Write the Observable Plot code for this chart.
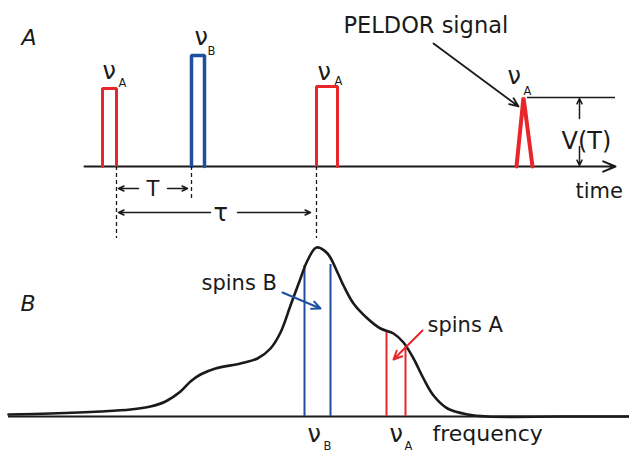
<!DOCTYPE html>
<html><head><meta charset="utf-8">
<script src="https://cdn.jsdelivr.net/npm/d3@7"></script>
<script src="https://cdn.jsdelivr.net/npm/@observablehq/plot@0.6"></script>
<style>body{margin:0;background:#fff}svg{display:block}</style>
</head><body><div id="chart"></div>
<script>
// ---------- Panel A: PELDOR pulse sequence (time axis) ----------
const pulseSpins = ["A", "B", "A"];        // spins excited by each pulse
const pulseStart = [102, 191, 316];        // leading edge time
const pulseEnd   = [116, 204, 337];        // trailing edge time
const pulseTop   = [88, 55, 86];           // pulse amplitude level
const timeBaseline = 166;
const echoTime  = [516, 523, 532];         // PELDOR echo signal
const echoLevel = [166, 97, 166];
const timeAxisStart = 84, timeAxisEnd = 615;

// ---------- Panel B: EPR spectrum (frequency axis) ----------
const freq = [8, 50, 100, 130, 150, 165, 180, 190, 200, 215, 240, 257, 270, 280, 290, 300, 307, 316, 327, 337, 343, 353, 367, 380, 393, 403, 413, 423, 433, 447, 467, 487, 560, 629];
const intensity = [414, 413, 411, 409, 406, 401, 391, 381, 374, 368, 363, 358, 348, 332, 305, 278, 260, 247, 253, 272, 285, 303, 318, 328, 333, 342, 358, 378, 395, 408, 414, 416, 416, 416];
const freqBaseline = 416;
const bandB = [304, 330], bandBTop = [265, 264];   // pumping pulse νB
const bandA = [386, 405], bandATop = [331, 346];   // observer pulse νA

const RED = "#e8262b", BLUE = "#1f4f9f", INK = "#1a1a1a";
const FONT = "'DejaVu Sans', sans-serif";

// pulse outlines
const pulseRows = pulseStart.flatMap((s, i) => [
  {id: i, spins: pulseSpins[i], t: s, v: timeBaseline},
  {id: i, spins: pulseSpins[i], t: s, v: pulseTop[i]},
  {id: i, spins: pulseSpins[i], t: pulseEnd[i], v: pulseTop[i]},
  {id: i, spins: pulseSpins[i], t: pulseEnd[i], v: timeBaseline}
]);
const echoRows = echoTime.map((t, i) => ({t, v: echoLevel[i]}));
const spectrum = freq.map((f, i) => ({f, v: intensity[i]}));

function txt(items, opts) {
  return Plot.text(items, {x: "x", y: "y", text: "t", textAnchor: "start", lineAnchor: "bottom", fontFamily: FONT, fill: INK, ...opts});
}
const arrowStyle = {stroke: INK, strokeWidth: 1.5, headLength: 6, headAngle: 50};

const W = 629, H = 452;
const chart = Plot.plot({
  width: W, height: H, margin: 0,
  x: {domain: [0, W], range: [0, W], axis: null},
  y: {domain: [0, H], range: [0, H], axis: null},
  style: {background: "#fff", fontFamily: FONT},
  marks: [
    // ---- panel A ----
    Plot.arrow([0], {x1: timeAxisStart, x2: timeAxisEnd, y1: timeBaseline, y2: timeBaseline, stroke: INK, strokeWidth: 2, headLength: 10, headAngle: 45}),
    Plot.line(pulseRows.filter(d => d.spins === "A"), {x: "t", y: "v", z: "id", stroke: RED, strokeWidth: 3, strokeLinejoin: "miter"}),
    Plot.line(pulseRows.filter(d => d.spins === "B"), {x: "t", y: "v", z: "id", stroke: BLUE, strokeWidth: 3.5, strokeLinejoin: "miter"}),
    Plot.line(echoRows, {x: "t", y: "v", stroke: RED, strokeWidth: 4, strokeLinejoin: "miter"}),
    // dashed time markers
    Plot.ruleX([pulseEnd[0], pulseStart[2]], {x: d => d, y1: timeBaseline, y2: 238, stroke: INK, strokeWidth: 1.3, strokeDasharray: "4,3"}),
    Plot.ruleX([pulseStart[1]], {x: d => d, y1: timeBaseline, y2: 199, stroke: INK, strokeWidth: 1.3, strokeDasharray: "4,3"}),
    // T and tau arrows
    Plot.arrow([0], {x1: pulseEnd[0] + 22, x2: pulseEnd[0] + 2, y1: 188, y2: 188, ...arrowStyle}),
    Plot.arrow([0], {x1: pulseStart[1] - 24, x2: pulseStart[1] - 4, y1: 188, y2: 188, ...arrowStyle}),
    Plot.arrow([0], {x1: 210, x2: pulseEnd[0] + 2, y1: 212, y2: 212, ...arrowStyle}),
    Plot.arrow([0], {x1: 237, x2: pulseStart[2] - 6, y1: 212, y2: 212, ...arrowStyle}),
    // V(T)
    Plot.ruleY([echoLevel[1]], {y: d => d, x1: 527, x2: timeAxisEnd, stroke: INK, strokeWidth: 1.5}),
    Plot.arrow([0], {x1: 579, x2: 579, y1: 118, y2: echoLevel[1] + 1, ...arrowStyle}),
    Plot.arrow([0], {x1: 579, x2: 579, y1: 146, y2: timeBaseline - 1, ...arrowStyle}),
    // PELDOR arrow
    Plot.arrow([0], {x1: 433, y1: 43, x2: 518, y2: 106, stroke: INK, strokeWidth: 1.8, headLength: 8, headAngle: 45}),
    txt([{x: 21, y: 44, t: "A"}], {fontSize: 22, fontStyle: "italic"}),
    txt([{x: 102, y: 78, t: "ν"}, {x: 194, y: 44, t: "ν"}, {x: 317, y: 79, t: "ν"}, {x: 507, y: 83, t: "ν"}], {fontSize: 24}),
    txt([{x: 118, y: 86, t: "A"}, {x: 207, y: 54, t: "B"}, {x: 334, y: 84, t: "A"}, {x: 523, y: 94, t: "A"}], {fontSize: 11.5}),
    txt([{x: 343, y: 32, t: "PELDOR signal"}], {fontSize: 22.5}),
    txt([{x: 561, y: 148, t: "V(T)"}], {fontSize: 24}),
    txt([{x: 575, y: 197, t: "time"}], {fontSize: 21}),
    txt([{x: 146, y: 195, t: "T"}], {fontSize: 21}),
    txt([{x: 213, y: 220, t: "τ"}], {fontSize: 24}),
    // ---- panel B ----
    Plot.ruleY([freqBaseline], {y: d => d, x1: 8, x2: W, stroke: INK, strokeWidth: 1.8}),
    Plot.ruleX(bandB, {x: d => d, y1: freqBaseline, y2: (d, i) => bandBTop[i], stroke: BLUE, strokeWidth: 2}),
    Plot.ruleX(bandA, {x: d => d, y1: freqBaseline, y2: (d, i) => bandATop[i], stroke: RED, strokeWidth: 2}),
    Plot.line(spectrum, {x: "f", y: "v", curve: "catmull-rom", stroke: INK, strokeWidth: 2.6}),
    Plot.arrow([0], {x1: 282, y1: 292, x2: 320, y2: 308, stroke: BLUE, strokeWidth: 2, headLength: 7, headAngle: 50}),
    Plot.arrow([0], {x1: 422, y1: 330, x2: 393, y2: 359, stroke: RED, strokeWidth: 2, headLength: 7, headAngle: 50}),
    txt([{x: 20, y: 310, t: "B"}], {fontSize: 22, fontStyle: "italic"}),
    txt([{x: 201, y: 289, t: "spins B"}, {x: 427, y: 331, t: "spins A"}], {fontSize: 21}),
    txt([{x: 307, y: 441, t: "ν"}, {x: 389, y: 441, t: "ν"}], {fontSize: 24}),
    txt([{x: 323, y: 449, t: "B"}, {x: 404, y: 449, t: "A"}], {fontSize: 11.5}),
    txt([{x: 432, y: 440, t: "frequency"}], {fontSize: 22})
  ]
});
document.getElementById("chart").append(chart);
</script>
</body></html>
